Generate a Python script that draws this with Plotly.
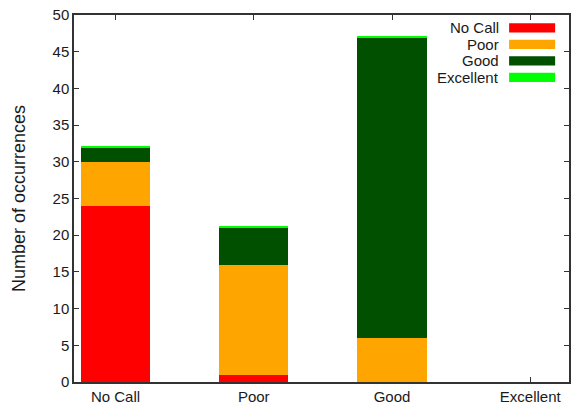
import plotly.graph_objects as go

categories = ["No Call", "Poor", "Good", "Excellent"]
series_names = ["No Call", "Poor", "Good", "Excellent"]
no_call = [24, 1, 0, 0]
poor = [6, 15, 6, 0]
good = [2, 5, 41, 0]
excellent = [0.14, 0.14, 0.14, 0]
colors = ["#ff0000", "#ffa500", "#005000", "#00ff00"]

series_values = [no_call, poor, good, excellent]

fig = go.Figure()
for name, vals, col in zip(series_names, series_values, colors):
    fig.add_trace(go.Bar(
        x=list(range(len(categories))), y=vals, name=name,
        marker=dict(color=col, line=dict(width=0)),
        width=0.5, showlegend=False,
    ))

font = "Liberation Sans, Arial, sans-serif"
fig.update_layout(
    barmode="stack",
    width=572, height=407,
    margin=dict(l=74, r=1, t=15, b=25),
    plot_bgcolor="white", paper_bgcolor="white",
    font=dict(family=font, size=15, color="#1a1a1a"),
    xaxis=dict(
        range=[-0.3, 3.28], tickmode="array",
        tickvals=list(range(len(categories))), ticktext=categories,
        showgrid=False, zeroline=False, showline=True, linecolor="#333333",
        linewidth=1.5, mirror="ticks", ticks="inside", ticklen=5,
        tickcolor="#333333", layer="below traces",
    ),
    yaxis=dict(
        range=[0, 50], dtick=5, showgrid=False, zeroline=False,
        showline=True, linecolor="#333333", linewidth=1.5, mirror="ticks",
        ticks="inside", ticklen=5, tickcolor="#333333",
        title=dict(text="Number of occurrences", standoff=22),
    ),
)

# legend drawn gnuplot-style: label right-aligned, swatch to its right
y0 = 0.965
step = 0.045
for i, (name, col) in enumerate(zip(series_names, colors)):
    yc = y0 - i * step
    fig.add_annotation(x=0.862, y=yc, xref="paper", yref="paper", text=name,
                       showarrow=False, xanchor="right", yanchor="middle",
                       font=dict(size=15, family=font, color="#1a1a1a"))
    fig.add_shape(type="rect", xref="paper", yref="paper",
                  x0=0.879, x1=0.972, y0=yc - 0.0125, y1=yc + 0.0125,
                  fillcolor=col, line=dict(width=0))

fig.write_html("out.html", config={"displayModeBar": False},
               post_script="document.body.style.margin='0';document.body.style.padding='0';")
